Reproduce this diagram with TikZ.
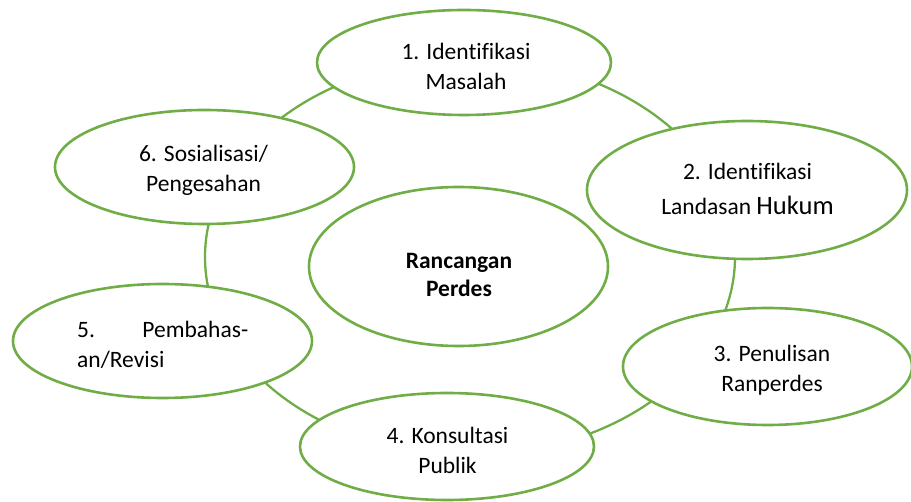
\documentclass[tikz,border=0pt]{standalone}
\usepackage{fontspec}
\setmainfont{Carlito}[Ligatures={NoCommon}]
\usetikzlibrary{shapes.geometric}
\definecolor{ringgreen}{HTML}{70AD47}
\tikzset{
  bubble/.style={ellipse, draw=ringgreen, line width=2.6pt, fill=white, inner sep=0pt},
  ringline/.style={ellipse, draw=ringgreen, line width=2.3pt, inner sep=0pt},
  lbl/.style={inner sep=0pt, align=center, font=\fontsize{23.5}{30}\selectfont},
  lblbold/.style={inner sep=0pt, align=center, font=\fontsize{23.5}{28}\selectfont\bfseries}
}
\begin{document}
\begin{tikzpicture}[x=1pt,y=-1pt]
\useasboundingbox (0,0) rectangle (911,502);
% ring behind
\node[ringline, minimum width=530pt, minimum height=396pt] (ring) at (470,257) {};
% bubbles
\node[bubble, minimum width=294pt, minimum height=105pt] (e1) at (464,62.5) {};
\node[bubble, minimum width=320pt, minimum height=138pt] (e2) at (747,190) {};
\node[bubble, minimum width=289pt, minimum height=117pt] (e3) at (767.5,366.5) {};
\node[bubble, minimum width=294pt, minimum height=107pt] (e4) at (447,446.5) {};
\node[bubble, minimum width=299pt, minimum height=114pt] (e5) at (162.5,341) {};
\node[bubble, minimum width=299pt, minimum height=114pt] (e6) at (204.5,167) {};
\node[bubble, minimum width=299pt, minimum height=159pt] (ec) at (458.5,266.5) {};
% labels
\node[lbl] (t1) at (466,69) {\strut 1. Identifikasi\\\strut Masalah};
\node[lbl] (t2) at (747.5,191.5) {\strut 2. Identifikasi\\[5pt]\strut Landasan {\fontsize{26.5}{30}\selectfont Hukum}};
\node[lbl] (t3) at (772,371) {\strut 3. Penulisan\\\strut Ranperdes};
\node[lbl] (t4) at (447.5,453) {\strut 4. Konsultasi\\\strut Publik};
\node[lbl, align=left, anchor=west] (t5) at (77,347) {\strut\makebox[171pt][s]{5.\hfill Pembahas-}\\\strut an/Revisi};
\node[lbl] (t6) at (203.5,171) {\strut 6. Sosialisasi/\\\strut Pengesahan};
\node[lblbold] (tc) at (459,277.4) {\strut Rancangan\\\strut Perdes};
\end{tikzpicture}
\end{document}
